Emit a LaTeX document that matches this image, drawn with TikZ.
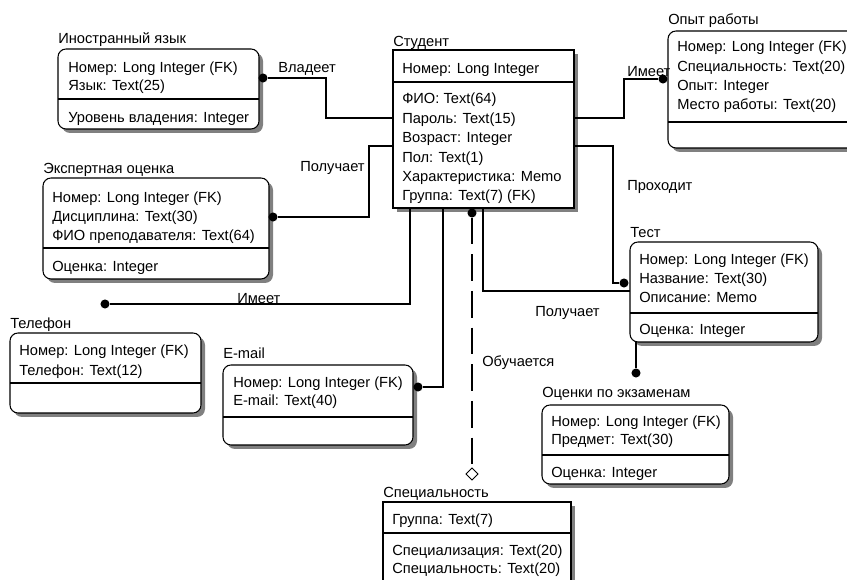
\documentclass[tikz,border=0pt]{standalone}
\usepackage{fontspec}
\setmainfont{Liberation Sans}
\usetikzlibrary{shadows,shapes.geometric}

% entity box: name, x1, y1, x2, y2, style (pixel-like units, y grows downwards)
\newcommand\entbox[6]{%
  \node[#6, minimum width={(#4-#2)*0.75pt}, minimum height={(#5-#3)*0.75pt}] (#1) at (#2,#3) {};}

\tikzset{
  ent/.style={draw, line width=0.8pt, fill=white, inner sep=0pt, outer sep=0pt,
    anchor=north west,
    drop shadow={shadow xshift=3pt, shadow yshift=-3pt, fill=black!50, opacity=1}},
  indep/.style={ent},
  dep/.style={ent, rounded corners=6pt},
  ttl/.style={anchor=base west, inner sep=0pt, yshift=-4pt},
  row/.style={anchor=base west, inner sep=0pt, yshift=-4pt},
  lbl/.style={anchor=base west, inner sep=0pt, yshift=-4pt},
  lnk/.style={line width=0.8pt},
  sep/.style={line width=0.8pt},
  dotc/.style={circle, fill=black, inner sep=0pt, outer sep=0pt, minimum size=6.8pt},
  hollow/.style={diamond, draw, line width=0.7pt, fill=white, inner sep=0pt, outer sep=0pt,
    minimum width=9pt, minimum height=9pt},
}

\begin{document}
\begin{tikzpicture}[x=0.75pt, y=-0.75pt, font=\fontsize{11pt}{13pt}\selectfont]
\useasboundingbox (0,0) rectangle (847,580);
\clip (0,0) rectangle (847,580);

% ---------- Студент ----------
\node[ttl] (studT) at (393,41) {Студент};
\entbox{stud}{393}{50}{574}{208}{indep}
\draw[sep] (stud.west |- 0,82) -- (stud.east |- 0,82);
\node[row] (s0) at (402,68) {Номер: Long Integer};
\node[row] (s1) at (402,98) {ФИО: Text(64)};
\node[row] (s2) at (402,118) {Пароль: Text(15)};
\node[row] (s3) at (402,137) {Возраст: Integer};
\node[row] (s4) at (402,157) {Пол: Text(1)};
\node[row] (s5) at (402,176) {Характеристика: Memo};
\node[row] (s6) at (402,195) {Группа: Text(7) (FK)};

% ---------- Иностранный язык ----------
\node[ttl] (langT) at (58,38) {Иностранный язык};
\entbox{lang}{58}{49}{259}{129}{dep}
\draw[sep] (lang.west |- 0,99) -- (lang.east |- 0,99);
\node[row] (l0) at (68,67) {Номер: Long Integer (FK)};
\node[row] (l1) at (68,85) {Язык: Text(25)};
\node[row] (l2) at (68,117) {Уровень владения: Integer};

% ---------- Экспертная оценка ----------
\node[ttl] (expT) at (43,168) {Экспертная оценка};
\entbox{exp}{43}{178}{269}{279}{dep}
\draw[sep] (exp.west |- 0,248) -- (exp.east |- 0,248);
\node[row] (e0) at (52,197) {Номер: Long Integer (FK)};
\node[row] (e1) at (52,216) {Дисциплина: Text(30)};
\node[row] (e2) at (52,235) {ФИО преподавателя: Text(64)};
\node[row] (e3) at (52,266) {Оценка: Integer};

% ---------- Опыт работы ----------
\node[ttl] (opT) at (668,19) {Опыт работы};
\entbox{op}{668}{31}{880}{148}{dep}
\draw[sep] (op.west |- 0,122) -- (op.east |- 0,122);
\node[row] (o0) at (677,46) {Номер: Long Integer (FK)};
\node[row] (o1) at (677,66) {Специальность: Text(20)};
\node[row] (o2) at (677,85) {Опыт: Integer};
\node[row] (o3) at (677,104) {Место работы: Text(20)};

% ---------- Тест ----------
\node[ttl] (testT) at (630,232) {Тест};
\entbox{test}{630}{242}{818}{342}{dep}
\draw[sep] (test.west |- 0,313) -- (test.east |- 0,313);
\node[row] (t0) at (639,259) {Номер: Long Integer (FK)};
\node[row] (t1) at (639,278) {Название: Text(30)};
\node[row] (t2) at (639,297) {Описание: Memo};
\node[row] (t3) at (639,329) {Оценка: Integer};

% ---------- Оценки по экзаменам ----------
\node[ttl] (ocT) at (542,392) {Оценки по экзаменам};
\entbox{oc}{542}{405}{729}{484}{dep}
\draw[sep] (oc.west |- 0,455) -- (oc.east |- 0,455);
\node[row] (c0) at (551,421) {Номер: Long Integer (FK)};
\node[row] (c1) at (551,439) {Предмет: Text(30)};
\node[row] (c2) at (551,472) {Оценка: Integer};

% ---------- Специальность ----------
\node[ttl] (spT) at (383,492) {Специальность};
\entbox{sp}{383}{502}{571}{610}{indep}
\draw[sep] (sp.west |- 0,533) -- (sp.east |- 0,533);
\node[row] (p0) at (392,519) {Группа: Text(7)};
\node[row] (p1) at (392,550) {Специализация: Text(20)};
\node[row] (p2) at (392,568) {Специальность: Text(20)};

% ---------- Телефон ----------
\node[ttl] (phT) at (10,323) {Телефон};
\entbox{ph}{10}{333}{201}{413}{dep}
\draw[sep] (ph.west |- 0,383) -- (ph.east |- 0,383);
\node[row] (h0) at (19,350) {Номер: Long Integer (FK)};
\node[row] (h1) at (19,370) {Телефон: Text(12)};

% ---------- E-mail ----------
\node[ttl] (emT) at (223,353) {E-mail};
\entbox{em}{223}{365}{413}{445}{dep}
\draw[sep] (em.west |- 0,417) -- (em.east |- 0,417);
\node[row] (m0) at (233,382) {Номер: Long Integer (FK)};
\node[row] (m1) at (233,400) {E-mail: Text(40)};

% ---------- relationship ends ----------
\node[dotc] (dLang) at (263,78) {};
\node[dotc] (dExp)  at (273,217) {};
\node[dotc] (dOp)   at (663,79) {};
\node[dotc] (dTest) at (624,283) {};
\node[dotc] (dOc)   at (636,373) {};
\node[dotc] (dSt)   at (472,213) {};
\node[dotc] (dPh)   at (105,304) {};
\node[dotc] (dEm)   at (418,387) {};
\node[hollow] (dSp) at (472,474) {};

% ---------- relationships ----------
\draw[lnk] (stud.west |- 0,118) -| (326,78) -- (dLang);
\node[lbl] (rLang) at (278,67) {Владеет};

\draw[lnk] (stud.west |- 0,146) -| (369,217) -- (dExp);
\node[lbl] (rExp) at (300,166) {Получает};

\draw[lnk] (stud.east |- 0,118) -| (624,79) -- (dOp);
\node[lbl] (rOp) at (627,71) {Имеет};

\draw[lnk] (stud.east |- 0,146) -| (613,283) -- (dTest);
\node[lbl] (rTest) at (627,185) {Проходит};

\draw[lnk] (stud.south -| 483,0) |- (test.west |- 0,291);
\node[lbl] (rTest2) at (535,311) {Получает};

\draw[lnk] (test.south -| 636,0) -- (dOc);

\draw[lnk, dash pattern=on 20pt off 7.5pt] (dSt) -- (dSp);
\node[lbl] (rSp) at (482,361) {Обучается};

\draw[lnk] (stud.south -| 410,0) |- (dPh);
\node[lbl] (rPh) at (237,298) {Имеет};

\draw[lnk] (stud.south -| 443,0) |- (dEm);
\end{tikzpicture}
\end{document}
